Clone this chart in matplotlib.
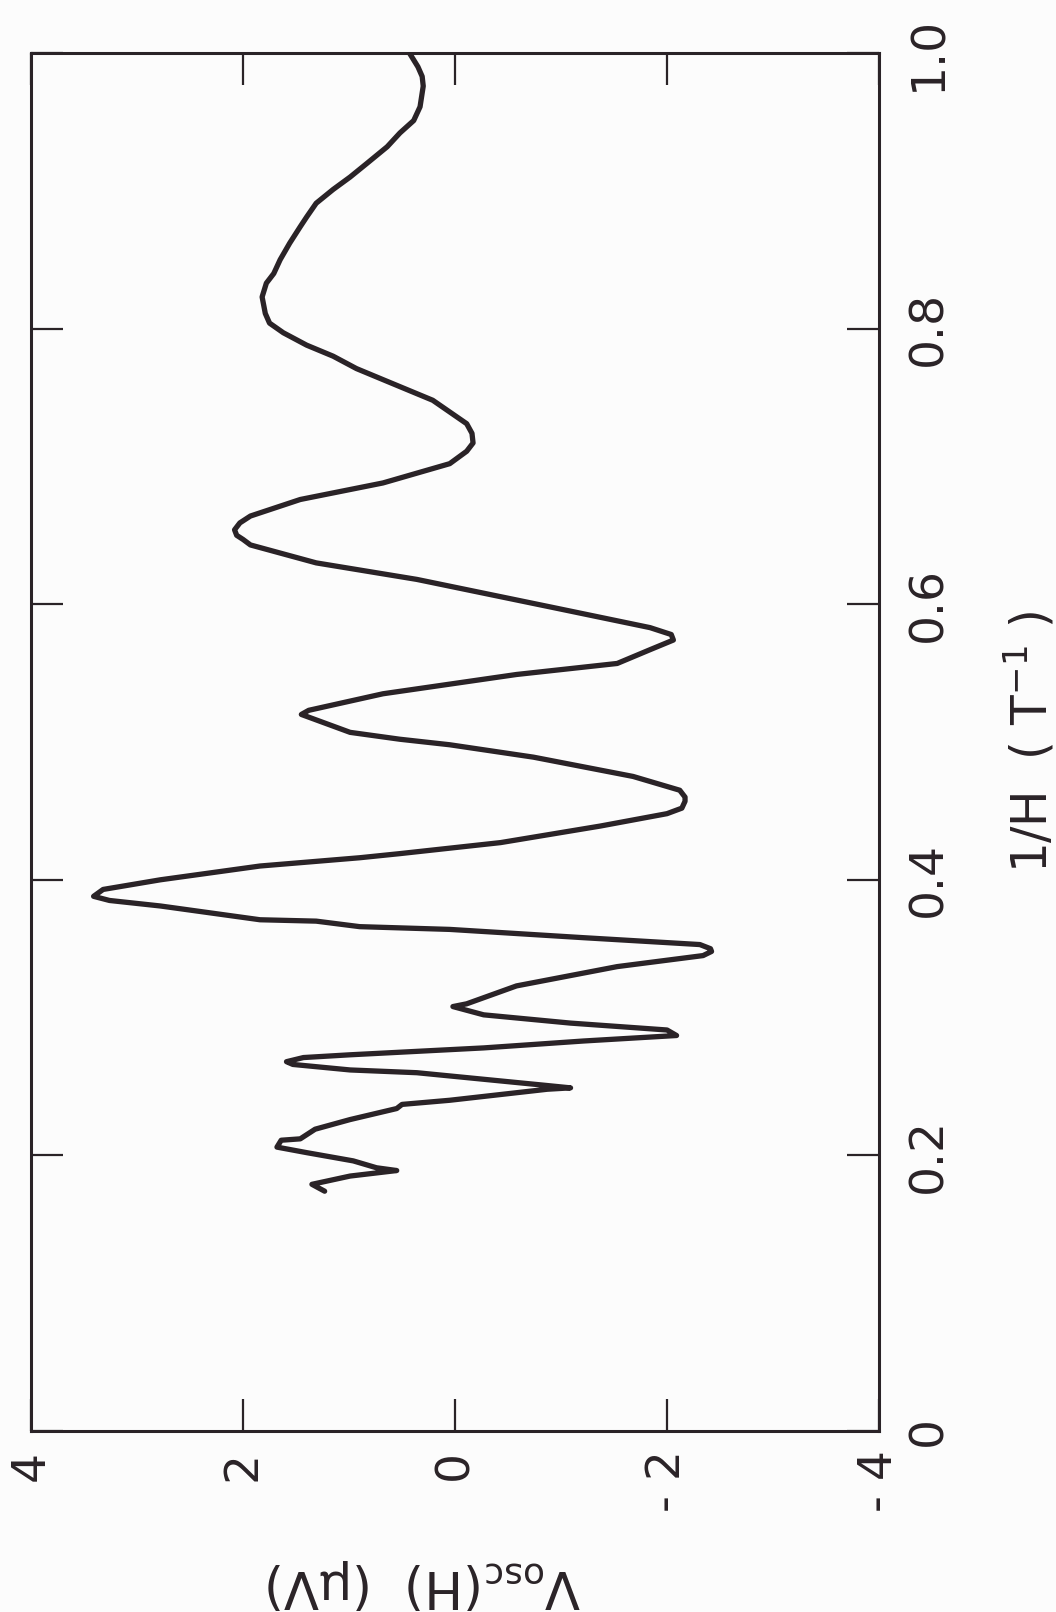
import numpy as np
import matplotlib
matplotlib.use("Agg")
from matplotlib import pyplot as plt

v_osc = [1.23, 1.35, 0.99, 0.55, 0.74, 0.96, 1.40, 1.68, 1.64, 1.46,
         1.32, 0.99, 0.55, 0.50, 0.05, -0.87, -1.09, -0.83, 0.36, 0.99,
         1.53, 1.59, 1.43, 0.99, -0.27, -1.21, -2.09, -2.00, -1.09, -0.27,
         0.02, -0.11, -0.58, -1.53, -2.34, -2.42, -2.41, -2.31, -1.21, 0.05,
         0.90, 1.31, 1.84, 2.78, 3.26, 3.41, 3.32, 2.78, 1.84, 0.90,
         0.52, -0.43, -1.37, -2.00, -2.14, -2.17, -2.17, -2.12, -1.68, -0.74,
         0.05, 0.52, 0.99, 1.45, 1.38, 0.68, -0.58, -1.53, -1.84, -2.06,
         -2.04, -1.84, -0.90, 0.36, 1.31, 1.93, 2.00, 2.06, 2.08, 2.03,
         1.93, 1.46, 0.68, 0.05, -0.11, -0.17, -0.16, -0.11, 0.21, 0.68,
         0.93, 1.15, 1.40, 1.62, 1.75, 1.79, 1.82, 1.78, 1.71, 1.65,
         1.56, 1.46, 1.40, 1.31, 1.15, 0.99, 0.83, 0.64, 0.52, 0.39,
         0.33, 0.30, 0.31, 0.35, 0.43]
inv_h = [0.174, 0.179, 0.185, 0.189, 0.191, 0.196, 0.202, 0.206, 0.211, 0.212,
         0.219, 0.226, 0.234, 0.237, 0.240, 0.248, 0.249, 0.251, 0.260, 0.262,
         0.266, 0.268, 0.271, 0.273, 0.278, 0.283, 0.287, 0.291, 0.296, 0.302,
         0.308, 0.310, 0.323, 0.337, 0.345, 0.348, 0.350, 0.353, 0.358, 0.364,
         0.366, 0.370, 0.371, 0.381, 0.385, 0.388, 0.393, 0.400, 0.410, 0.416,
         0.419, 0.427, 0.439, 0.448, 0.452, 0.457, 0.460, 0.465, 0.475, 0.489,
         0.498, 0.502, 0.507, 0.520, 0.523, 0.535, 0.549, 0.557, 0.567, 0.574,
         0.578, 0.583, 0.598, 0.618, 0.630, 0.643, 0.647, 0.650, 0.654, 0.659,
         0.664, 0.676, 0.688, 0.702, 0.711, 0.717, 0.724, 0.731, 0.748, 0.763,
         0.771, 0.780, 0.788, 0.797, 0.804, 0.811, 0.823, 0.833, 0.840, 0.850,
         0.862, 0.874, 0.881, 0.891, 0.901, 0.910, 0.920, 0.932, 0.942, 0.951,
         0.961, 0.976, 0.983, 0.990, 1.000]

v_ticks = [4, 2, 0, -2, -4]
v_labels = ["4", "2", "0", "- 2", "- 4"]
h_ticks = [0, 0.2, 0.4, 0.6, 0.8, 1.0]
h_labels = ["0", "0.2", "0.4", "0.6", "0.8", "1.0"]

ink = "#2a2327"
plt.rcParams['font.family'] = ['DejaVu Sans']

fig = plt.figure(figsize=(10.56, 16.12), dpi=100)
fig.patch.set_facecolor("#fcfcfc")
ax = fig.add_axes([0.0294, 0.1123, 0.8030, 0.8548])
ax.set_facecolor("#fcfcfc")

ax.plot(v_osc, inv_h, color=ink, lw=3.8, solid_joinstyle='round', solid_capstyle='round')

ax.set_xlim(4, -4)
ax.set_ylim(0, 1)
ax.set_xticks(v_ticks)
ax.set_xticklabels(v_labels, rotation=90)
ax.set_yticks(h_ticks)
ax.set_yticklabels(h_labels, rotation=90, va='center')

ax.tick_params(direction='in', length=23, width=1.6, color=ink,
               top=True, bottom=True, left=True, right=True,
               labelleft=False, labelright=True, labelsize=34, labelcolor=ink)
ax.tick_params(axis='x', pad=14)
ax.tick_params(axis='y', pad=20)
for s in ax.spines.values():
    s.set_linewidth(2.2)
    s.set_color(ink)

# axis titles, turned like the scanned page
ax.text(0.463, -0.111, "V$_{\\rm osc}$(H)  (µV)", transform=ax.transAxes,
        rotation=180, ha='center', va='center', fontsize=37, color=ink)
ax.text(1.178, 0.5, "1/H  ( T$^{-1}$ )", transform=ax.transAxes,
        rotation=90, ha='center', va='center', fontsize=35, color=ink)

fig.savefig("out.png", dpi=100, facecolor=fig.get_facecolor())
